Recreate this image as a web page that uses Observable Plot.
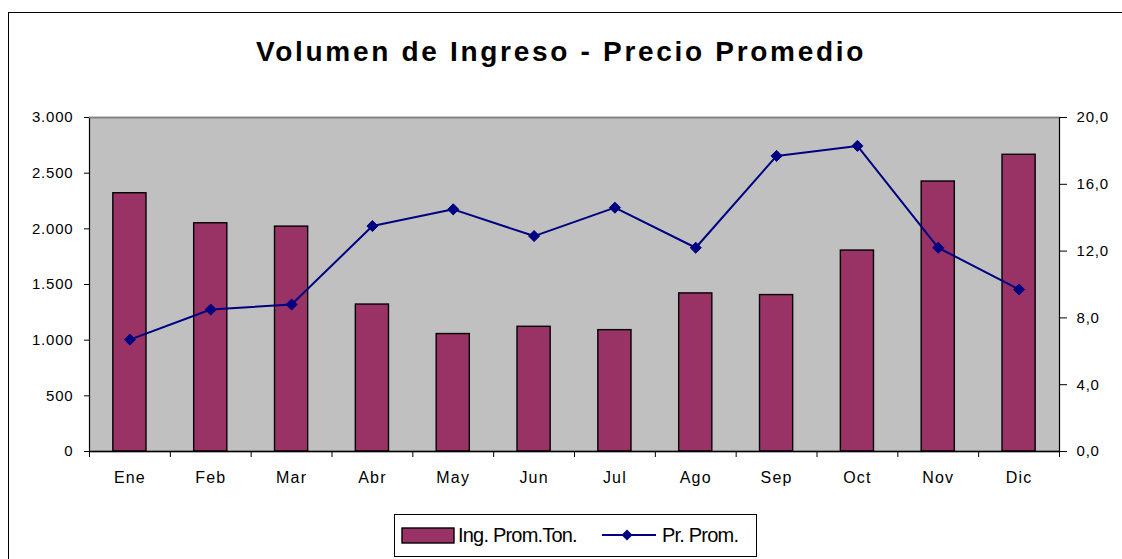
<!DOCTYPE html>
<html><head><meta charset="utf-8">
<script src="https://cdn.jsdelivr.net/npm/d3@7"></script>
<script src="https://cdn.jsdelivr.net/npm/@observablehq/plot@0.6"></script>
<style>
html,body{margin:0;padding:0;background:#fff;overflow:hidden;width:1122px;height:559px;}
body{position:relative;font-family:"Liberation Sans",Arial,sans-serif;color:#000;}
#frame{position:absolute;left:8px;top:12px;width:1300px;height:700px;border:1.5px solid #000;box-sizing:border-box;}
#title{position:absolute;left:0;top:38px;width:1122px;text-align:center;font-weight:bold;font-size:28px;line-height:28px;letter-spacing:2.7px;white-space:nowrap;}
#chart{position:absolute;left:0;top:100px;}
#chart svg text{letter-spacing:0.8px;}
#chart g[aria-label="x-axis tick label"] text{letter-spacing:1.2px;}
#legend{position:absolute;left:394px;top:514px;width:363px;height:43px;border:1px solid #000;box-sizing:border-box;background:#fff;}
#legend text{font-family:"Liberation Sans",Arial,sans-serif;font-size:20px;letter-spacing:-0.8px;}
</style>
</head><body>
<div id="frame"></div>
<div id="title">Volumen de Ingreso - Precio Promedio</div>
<div id="chart"></div>
<div id="legend"></div>
<script>
const months = ["Ene","Feb","Mar","Abr","May","Jun","Jul","Ago","Sep","Oct","Nov","Dic"];
const volumen = [2320,2050,2020,1320,1055,1120,1090,1420,1405,1805,2425,2665];
const precio = [6.7,8.5,8.8,13.5,14.5,12.9,14.6,12.2,17.7,18.3,12.2,9.7];
const leftTicks = [0,500,1000,1500,2000,2500,3000];
const leftTickLabels = ["0","500","1.000","1.500","2.000","2.500","3.000"];
const rightTicks = [0,4,8,12,16,20];
const rightTickLabels = ["0,0","4,0","8,0","12,0","16,0","20,0"];
const seriesNames = ["Ing. Prom.Ton.","Pr. Prom."];
const leftMax = 3000, rightMax = 20;
const barColor = "#993366", lineColor = "#000080", bgColor = "#c0c0c0";

const rows = months.map((m,i)=>({mes:m, vol:volumen[i], precio:precio[i]}));
const ratio = leftMax/rightMax;

const W = 1122, H = 390, mL = 89, mR = 63, mT = 17, mB = 39;
const step = (W - mL - mR) / months.length;

const chart = Plot.plot({
  width: W, height: H,
  marginLeft: mL, marginRight: mR, marginTop: mT, marginBottom: mB,
  style: {fontFamily: "Liberation Sans, Arial, sans-serif", fontSize: "15px", color: "#000", background: "transparent", overflow: "visible"},
  x: {domain: months, paddingInner: 0.59, paddingOuter: 0.295, align: 0.5, round: false, label: null},
  y: {domain: [0, leftMax], label: null},
  marks: [
    Plot.frame({fill: bgColor, stroke: "#000", strokeWidth: 1.2}),
    Plot.ruleY([leftMax], {stroke: "#808080", strokeWidth: 1.5}),
    Plot.barY(rows, {x: "mes", y: "vol", fill: barColor, stroke: "#000", strokeWidth: 1.4}),
    Plot.line(rows, {x: "mes", y: d => d.precio * ratio, stroke: lineColor, strokeWidth: 2}),
    Plot.dot(rows, {x: "mes", y: d => d.precio * ratio, symbol: "diamond2", r: 5, fill: lineColor, stroke: lineColor, strokeWidth: 1}),
    Plot.ruleY([0], {stroke: "#000", strokeWidth: 1.5}),
    Plot.ruleX(months, {x: d => d, dx: step/2, y1: 0, y2: 0, insetBottom: -6, stroke: "#000", strokeWidth: 1}),
    Plot.ruleX([months[0]], {x: d => d, dx: -step/2, y1: 0, y2: 0, insetBottom: -6, stroke: "#000", strokeWidth: 1}),
    Plot.axisX({tickSize: 0, tickPadding: 20, fontSize: 16, label: null}),
    Plot.axisY(leftTicks, {anchor: "left", tickSize: 5, tickPadding: 11, label: null,
      tickFormat: d => leftTickLabels[leftTicks.indexOf(d)]}),
    Plot.axisY(rightTicks.map(v => v * ratio), {anchor: "right", tickSize: 7, tickPadding: 10, label: null,
      tickFormat: d => rightTickLabels[rightTicks.indexOf(Math.round(d / ratio))]})
  ]
});
document.getElementById("chart").appendChild(chart);

// legend
const lg = d3.select("#legend").append("svg").attr("width", 361).attr("height", 41);
lg.append("rect").attr("x", 7).attr("y", 13).attr("width", 52).attr("height", 15)
  .attr("fill", barColor).attr("stroke", "#000").attr("stroke-width", 1.4);
lg.append("text").attr("x", 63).attr("y", 27).text(seriesNames[0]);
lg.append("line").attr("x1", 207).attr("x2", 261).attr("y1", 20).attr("y2", 20)
  .attr("stroke", lineColor).attr("stroke-width", 2);
lg.append("path").attr("d", "M232,14.5L237.5,20L232,25.5L226.5,20Z").attr("fill", lineColor);
lg.append("text").attr("x", 267).attr("y", 27).text(seriesNames[1]);
</script>
</body></html>
